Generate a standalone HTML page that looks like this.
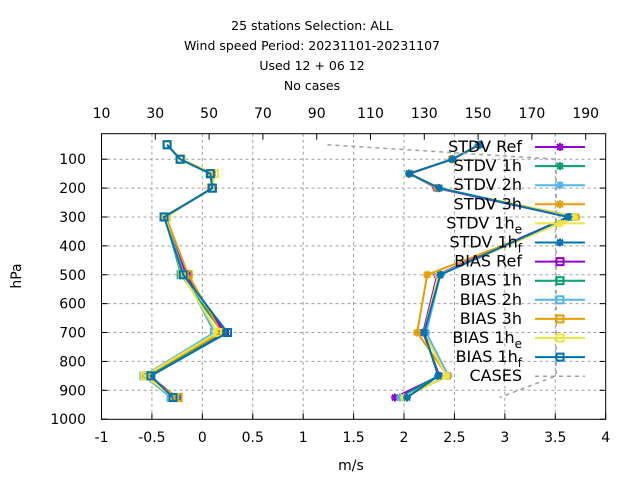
<!DOCTYPE html>
<html><head><meta charset="utf-8"><style>
body{margin:0;background:#fff}
svg{display:block;font-family:"DejaVu Sans","Liberation Sans",sans-serif}
</style></head><body>
<svg id="chart" width="640" height="480" viewBox="0 0 640 480">
<g font-size="12.5" text-anchor="middle" fill="#000" style="white-space:pre">
<text x="312" y="30">25 stations Selection: ALL</text>
<text x="312" y="50">Wind speed  Period: 20231101-20231107</text>
<text x="312" y="70">Used  12 + 06 12</text>
<text x="312" y="90">No cases</text>
</g>
<text x="21" y="276" font-size="14" text-anchor="middle" transform="rotate(-90 21 276)">hPa</text>
<text x="351" y="470" font-size="14" text-anchor="middle">m/s</text>
<g id="grid"></g>
<g id="axes"></g>
<g id="series"></g>
<g id="legend"></g>
</svg>
<script>
const levels=[50,100,150,200,300,500,700,850,925];
const stdvRef=[2.74,2.48,2.06,2.32,3.63,2.33,2.19,2.35,1.91];
const stdv1h=[2.74,2.48,2.05,2.34,3.64,2.35,2.20,2.34,1.96];
const stdv2h=[2.75,2.48,2.05,2.35,3.67,2.36,2.22,2.44,1.96];
const stdv3h=[2.75,2.47,2.06,2.33,3.71,2.23,2.13,2.43,2.00];
const stdv1he=[2.75,2.48,2.05,2.35,3.69,2.34,2.20,2.42,2.00];
const stdv1hf=[2.75,2.48,2.05,2.35,3.63,2.36,2.20,2.34,2.03];
const biasRef=[-0.35,-0.22,0.08,0.10,-0.37,-0.16,0.22,-0.53,-0.25];
const bias1h=[-0.35,-0.22,0.08,0.10,-0.37,-0.21,0.20,-0.53,-0.27];
const bias2h=[-0.35,-0.22,0.09,0.10,-0.37,-0.18,0.12,-0.58,-0.31];
const bias3h=[-0.35,-0.22,0.09,0.09,-0.36,-0.14,0.19,-0.56,-0.24];
const bias1he=[-0.35,-0.21,0.12,0.10,-0.37,-0.20,0.15,-0.57,-0.28];
const bias1hf=[-0.35,-0.22,0.08,0.10,-0.38,-0.19,0.25,-0.51,-0.29];
const cases=[94,179,179,179,179,179,179,179,158];
const xTicks=[-1,-0.5,0,0.5,1,1.5,2,2.5,3,3.5,4];
const x2Ticks=[10,30,50,70,90,110,130,150,170,190];
const yTicks=[100,200,300,400,500,600,700,800,900,1000];

const L=101.5,R=605.7,T=133.7,B=419.3;
const X=v=>L+(v+1)*(R-L)/5;
const X2=v=>L+(v-10)*2.69;
const Y=p=>130.3+p*0.2889;
const NS='http://www.w3.org/2000/svg';
function mk(par,tag,attrs){const e=document.createElementNS(NS,tag);for(const k in attrs)e.setAttribute(k,attrs[k]);par.appendChild(e);return e;}
const grid=document.getElementById('grid'),axes=document.getElementById('axes'),ser=document.getElementById('series'),leg=document.getElementById('legend');
xTicks.forEach(v=>{const x=X(v);
 if(v>-1&&v<4){const g=mk(grid,'line',{x1:x,x2:x,y1:T,y2:B,stroke:'#a0a0a0','stroke-dasharray':'3,3'});
 
 }
 mk(axes,'line',{x1:x,x2:x,y1:B,y2:B-6,stroke:'#000'});
 const t=mk(axes,'text',{x:x,y:442,'font-size':14,'text-anchor':'middle'});t.textContent=v;
 
 });
x2Ticks.forEach(v=>{const x=X2(v);
 mk(axes,'line',{x1:x,x2:x,y1:T,y2:T+6,stroke:'#000'});
 const t=mk(axes,'text',{x:x,y:118,'font-size':14,'text-anchor':'middle'});t.textContent=v;
 
 });
yTicks.forEach(v=>{const y=Y(v);
 if(v<1000){const g=mk(grid,'line',{x1:L,x2:R,y1:y,y2:y,stroke:'#a0a0a0','stroke-dasharray':'3,3'});
 
 }
 mk(axes,'line',{x1:L,x2:L+6,y1:y,y2:y,stroke:'#000'});
 mk(axes,'line',{x1:R,x2:R-6,y1:y,y2:y,stroke:'#000'});
 const t=mk(axes,'text',{x:86,y:y+5,'font-size':14,'text-anchor':'end'});t.textContent=v;
 
 });
const fr=mk(axes,'rect',{x:L,y:T,width:R-L,height:B-T,fill:'none',stroke:'#000'});



function star(g,x,y,c){[[ -4,0,4,0],[0,-4,0,4],[-3,-3,3,3],[-3,3,3,-3]].forEach(a=>mk(g,'line',{x1:x+a[0],y1:y+a[1],x2:x+a[2],y2:y+a[3],stroke:c,'stroke-width':2}));}
function sq(g,x,y,c){mk(g,'rect',{x:x-3.5,y:y-3.5,width:7,height:7,fill:'none',stroke:c,'stroke-width':2});}
const S=[
 ['STDV Ref',stdvRef,'#9400d3',star,''],['STDV 1h',stdv1h,'#009e73',star,''],['STDV 2h',stdv2h,'#56b4e9',star,''],
 ['STDV 3h',stdv3h,'#e69f00',star,''],['STDV 1h',stdv1he,'#f0e442',star,'e'],['STDV 1h',stdv1hf,'#0072b2',star,'f'],
 ['BIAS Ref',biasRef,'#9400d3',sq,''],['BIAS 1h',bias1h,'#009e73',sq,''],['BIAS 2h',bias2h,'#56b4e9',sq,''],
 ['BIAS 3h',bias3h,'#e69f00',sq,''],['BIAS 1h',bias1he,'#f0e442',sq,'e'],['BIAS 1h',bias1hf,'#0072b2',sq,'f']];
S.forEach((s,i)=>{
 const g=mk(ser,'g',{});
 
 
 const pts=s[1].map((v,j)=>X(v)+','+Y(levels[j])).join(' ');
 mk(g,'polyline',{points:pts,fill:'none',stroke:s[2],'stroke-width':2});
 s[1].forEach((v,j)=>s[3](g,X(v),Y(levels[j]),s[2]));
 const ly=147+i*19.1;
 const t=mk(leg,'text',{x:522,y:ly+5,'font-size':16,'text-anchor':'end'});
 
 
 t.textContent=s[0];
 if(s[4]){const ts=mk(t,'tspan',{'font-size':12,dy:5});ts.textContent=s[4];}
 mk(leg,'line',{x1:535,x2:585,y1:ly,y2:ly,stroke:s[2],'stroke-width':2});
 s[3](leg,560,ly,s[2]);
});
const cg=mk(ser,'polyline',{points:cases.map((v,j)=>X2(v)+','+Y(levels[j])).join(' '),fill:'none',stroke:'#a0a0a0','stroke-width':1.5,'stroke-dasharray':'4,4'});


const cy=147+12*19.1;
const ct=mk(leg,'text',{x:522,y:cy+5,'font-size':16,'text-anchor':'end'});ct.textContent='CASES';


mk(leg,'line',{x1:535,x2:585,y1:cy,y2:cy,stroke:'#a0a0a0','stroke-width':1.5,'stroke-dasharray':'4,4'});
</script>
</body></html>
